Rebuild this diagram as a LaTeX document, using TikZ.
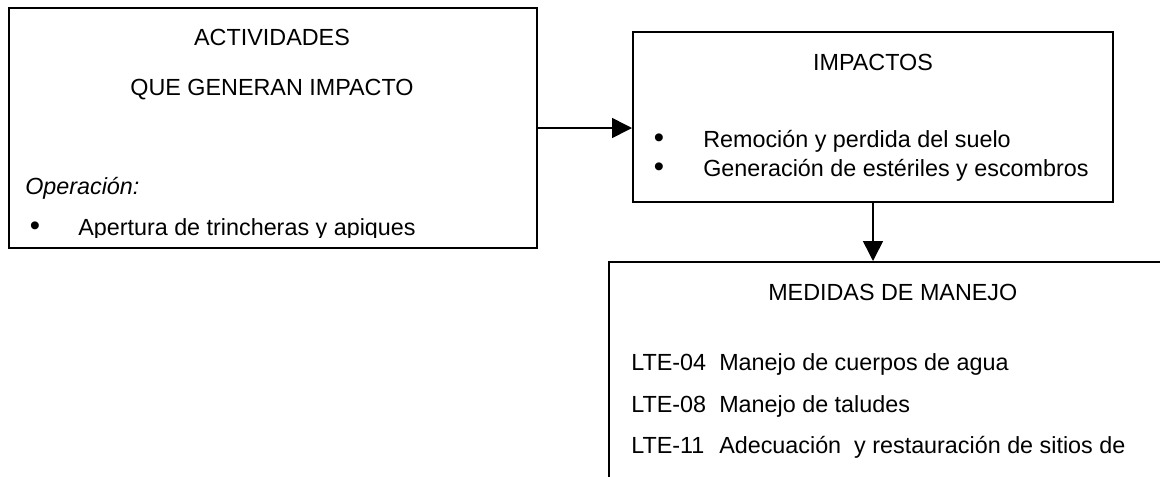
\documentclass[tikz,border=0pt]{standalone}
\usepackage{fontspec}
\setmainfont{Liberation Sans}
\usetikzlibrary{arrows.meta}
\newlength\probewidth
\begin{document}
% text size chosen so that the longest impact line is 289pt wide
\settowidth\probewidth{\normalfont\fontsize{10pt}{12pt}\selectfont Generación de estériles y escombros}%
\pgfmathsetmacro\txtsize{10*289/\probewidth}%
\begin{tikzpicture}[x=0.75pt,y=-0.75pt,
  box/.style={draw, line width=1.5pt, inner sep=0pt},
  arr/.style={line width=1.2pt, -{Triangle[length=15pt,width=15pt]}},
  txt/.style={anchor=base, inner sep=0pt},
  txtl/.style={anchor=base west, inner sep=0pt},
  dot/.style={anchor=base, inner sep=0pt, scale=1.25},
  every node/.append style={font=\fontsize{\txtsize pt}{\txtsize pt}\selectfont}]
\useasboundingbox (0,0) rectangle (1160,476);
\clip (0,0) rectangle (1160,476);

% frames
\node[box, minimum width=396pt, minimum height=180pt] (act) at (273,128) {};
\node[box, minimum width=360pt, minimum height=127.5pt] (imp) at (873,117) {};
\node[box, minimum width=443.25pt, minimum height=193.5pt] (med) at (904.5,391) {};

% activities
\node[txt] (actA) at (272,45) {ACTIVIDADES};
\node[txt] (actB) at (272,95) {QUE GENERAN IMPACTO};
\node[txtl] (actC) at (25,194) {\itshape Operación:};
\begin{scope}
  \clip (9,8) rectangle (537,237);
  \node[dot] (actDb) at (35,235) {\textbullet};
  \node[txtl] (actD) at (78,235) {Apertura de trincheras y apiques};
\end{scope}

% impacts
\node[txt] (impA) at (873,70) {IMPACTOS};
\node[dot] (impBb) at (659,147) {\textbullet};
\node[txtl] (impB) at (703,147) {Remoción y perdida del suelo};
\node[dot] (impCb) at (659,176) {\textbullet};
\node[txtl] (impC) at (703,176) {Generación de estériles y escombros};

% management measures
\node[txtl] (medA) at (768,300) {MEDIDAS DE MANEJO};
\node[txtl] (medB) at (631,370) {\makebox[66pt][l]{LTE-04}Manejo de cuerpos de agua};
\node[txtl] (medC) at (631,412) {\makebox[66pt][l]{LTE-08}Manejo de taludes};
\node[txtl] (medD) at (631,453) {\makebox[66pt][l]{LTE-11}Adecuación\ \ y restauración de sitios de};

% connectors
\draw[arr] (act.east) -- (act.east -| imp.west);
\draw[arr] (imp.south) -- (imp.south |- med.north);
\end{tikzpicture}
\end{document}
